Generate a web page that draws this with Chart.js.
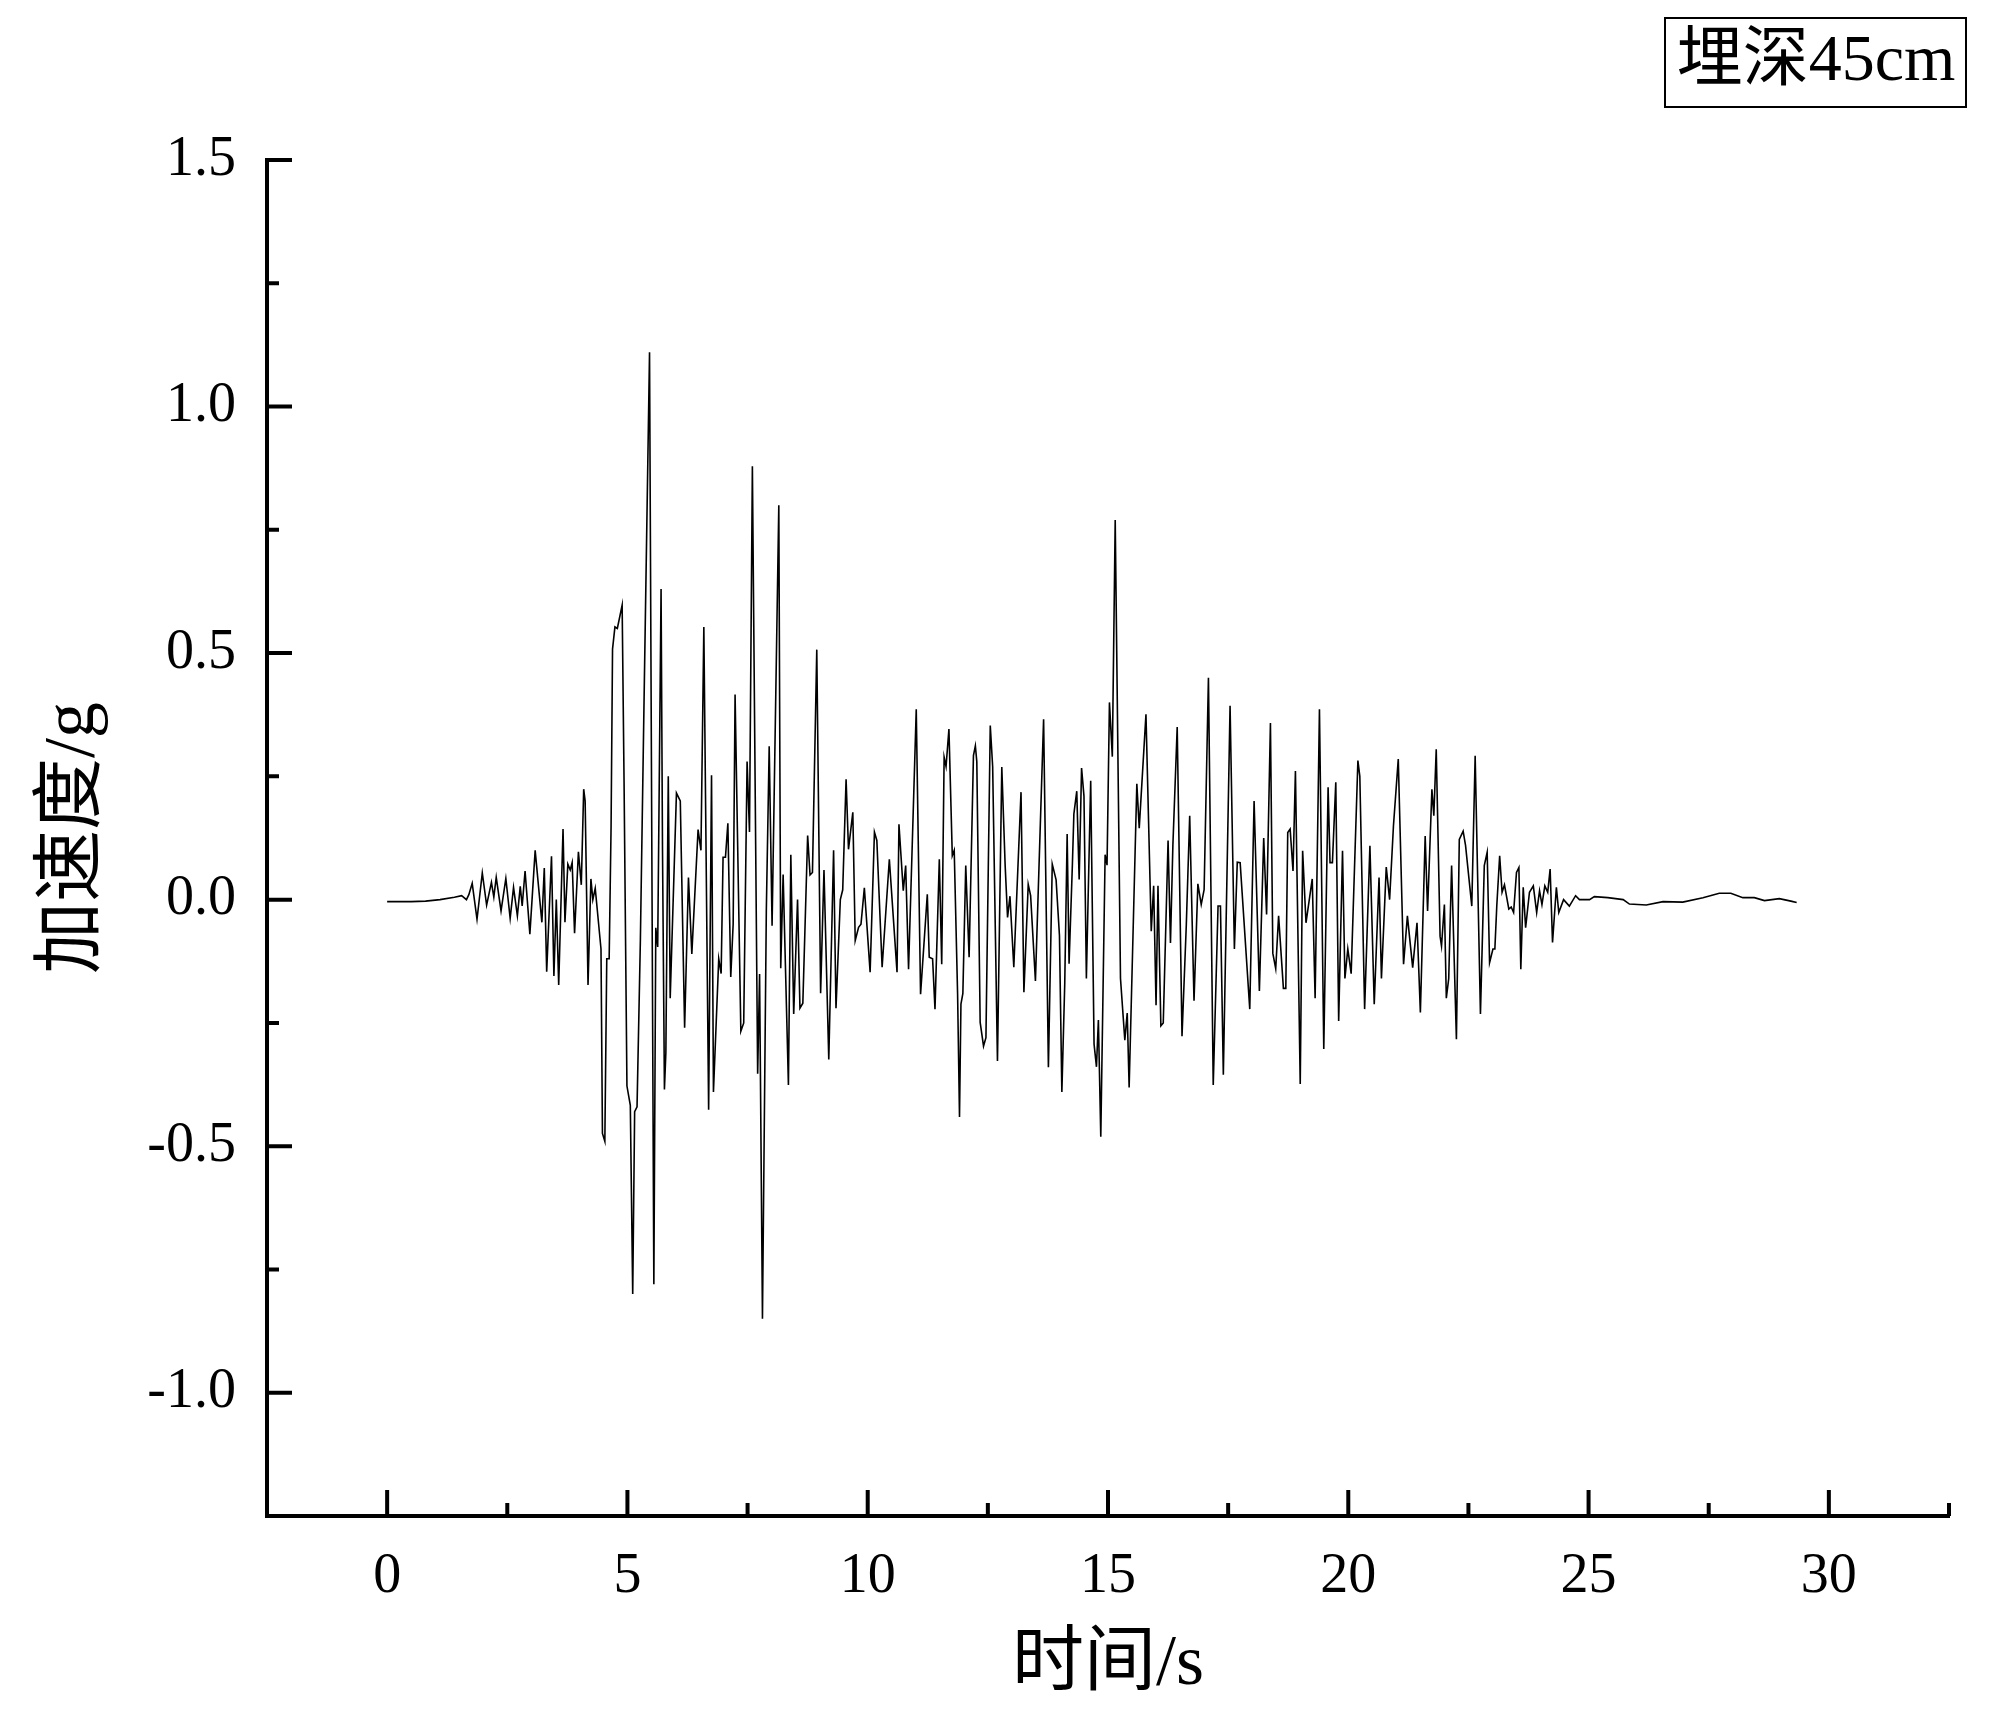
<!DOCTYPE html>
<html>
<head>
<meta charset="utf-8">
<title>埋深45cm</title>
<script src="https://cdn.jsdelivr.net/npm/chart.js@4.4.1/dist/chart.umd.min.js"></script>
<style>
    html, body { margin: 0; padding: 0; background: #ffffff; }
    #chartBox { width: 2000px; height: 1719px; }
</style>
</head>
<body>
<div id="chartBox"><canvas id="mainGraph" width="2000" height="1719"></canvas></div>
<script>
const timeS = [
    0, 0.5, 0.8, 1.1, 1.4, 1.55, 1.65, 1.7,
    1.77, 1.87, 1.98, 2.07, 2.17, 2.22, 2.27, 2.37, 2.47, 2.56, 2.63, 2.71,
    2.77, 2.81, 2.87, 2.97, 3.08, 3.22, 3.27, 3.32, 3.42, 3.47, 3.52, 3.57,
    3.66, 3.70, 3.76, 3.81, 3.85, 3.90, 3.98, 4.04, 4.09, 4.12, 4.18, 4.24,
    4.28, 4.33, 4.45, 4.48, 4.53, 4.57, 4.62, 4.66, 4.69, 4.74, 4.79, 4.89,
    4.93, 4.99, 5.06, 5.11, 5.15, 5.20, 5.27, 5.34, 5.46, 5.55, 5.59, 5.63,
    5.70, 5.73, 5.77, 5.80, 5.85, 5.89, 6.02, 6.10, 6.19, 6.27, 6.34, 6.47,
    6.53, 6.59, 6.69, 6.75, 6.79, 6.90, 6.95, 6.99, 7.04, 7.09, 7.15, 7.20,
    7.24, 7.36, 7.42, 7.49, 7.54, 7.60, 7.71, 7.75, 7.81, 7.89, 7.95, 8.01,
    8.15, 8.19, 8.24, 8.35, 8.40, 8.46, 8.54, 8.59, 8.65, 8.75, 8.80, 8.85,
    8.94, 9.02, 9.09, 9.19, 9.29, 9.34, 9.43, 9.48, 9.55, 9.60, 9.69, 9.74,
    9.81, 9.86, 9.93, 10.05, 10.14, 10.19, 10.30, 10.45, 10.61, 10.65, 10.74, 10.79,
    10.85, 11.01, 11.10, 11.24, 11.28, 11.35, 11.40, 11.49, 11.54, 11.59, 11.63, 11.69,
    11.76, 11.80, 11.87, 11.91, 11.94, 11.98, 12.04, 12.11, 12.20, 12.24, 12.27, 12.34,
    12.41, 12.46, 12.55, 12.60, 12.70, 12.79, 12.86, 12.91, 12.96, 13.04, 13.19, 13.25,
    13.34, 13.39, 13.49, 13.66, 13.76, 13.84, 13.92, 13.99, 14.04, 14.10, 14.15, 14.19,
    14.26, 14.29, 14.35, 14.40, 14.45, 14.50, 14.55, 14.64, 14.71, 14.76, 14.80, 14.85,
    14.94, 14.98, 15.03, 15.09, 15.15, 15.26, 15.35, 15.40, 15.44, 15.60, 15.65, 15.79,
    15.90, 15.95, 16.00, 16.04, 16.10, 16.15, 16.25, 16.30, 16.35, 16.44, 16.54, 16.63,
    16.70, 16.79, 16.87, 16.94, 17.00, 17.09, 17.19, 17.29, 17.34, 17.40, 17.54, 17.63,
    17.69, 17.75, 17.95, 18.04, 18.15, 18.24, 18.30, 18.38, 18.43, 18.49, 18.55, 18.65,
    18.70, 18.74, 18.79, 18.85, 18.90, 19.00, 19.05, 19.12, 19.25, 19.31, 19.40, 19.49,
    19.58, 19.62, 19.67, 19.74, 19.80, 19.88, 19.93, 19.99, 20.06, 20.20, 20.24, 20.34,
    20.45, 20.54, 20.64, 20.69, 20.79, 20.86, 20.94, 21.04, 21.15, 21.23, 21.34, 21.43,
    21.50, 21.60, 21.65, 21.74, 21.78, 21.83, 21.91, 21.94, 22.00, 22.04, 22.09, 22.15,
    22.25, 22.31, 22.39, 22.44, 22.57, 22.64, 22.75, 22.83, 22.89, 22.94, 23.01, 23.05,
    23.09, 23.15, 23.20, 23.25, 23.34, 23.39, 23.44, 23.50, 23.55, 23.59, 23.64, 23.69,
    23.77, 23.85, 23.92, 23.98, 24.03, 24.09, 24.15, 24.20, 24.25, 24.33, 24.38, 24.48,
    24.60, 24.73, 24.81, 25.02, 25.12, 25.40, 25.72, 25.85, 26.20, 26.55, 26.96, 27.38,
    27.72, 27.96, 28.21, 28.45, 28.66, 28.97, 29.21, 29.33
];
const accelG = [
    -0.004, -0.004, -0.003, 0.0, 0.005, 0.008, 0.0, 0.01,
    0.033, -0.04, 0.054, -0.011, 0.035, 0.005, 0.045, -0.023, 0.043, -0.038, 0.025, -0.033,
    0.027, -0.013, 0.058, -0.07, 0.10, -0.046, 0.064, -0.146, 0.088, -0.155, 0.0, -0.173,
    0.143, -0.046, 0.072, 0.06, 0.075, -0.068, 0.097, 0.03, 0.224, 0.20, -0.173, 0.042,
    0.0, 0.023, -0.10, -0.474, -0.49, -0.12, -0.12, 0.15, 0.508, 0.553, 0.55, 0.597,
    0.238, -0.378, -0.417, -0.80, -0.43, -0.42, -0.08, 0.366, 1.11, -0.78, -0.057, -0.096,
    0.63, 0.10, -0.385, -0.31, 0.25, -0.20, 0.216, 0.20, -0.26, 0.045, -0.11, 0.142,
    0.10, 0.553, -0.426, 0.252, -0.39, -0.12, -0.15, 0.086, 0.086, 0.155, -0.157, -0.05,
    0.416, -0.267, -0.25, 0.28, 0.137, 0.879, -0.353, -0.151, -0.85, -0.024, 0.311, -0.053,
    0.80, -0.139, 0.051, -0.376, 0.091, -0.232, 0.0, -0.22, -0.21, 0.13, 0.05, 0.055,
    0.507, -0.19, 0.06, -0.324, 0.10, -0.22, 0.0, 0.02, 0.244, 0.102, 0.177, -0.083,
    -0.056, -0.05, 0.024, -0.147, 0.137, 0.12, -0.137, 0.082, -0.147, 0.153, 0.018, 0.069,
    -0.141, 0.386, -0.192, 0.011, -0.117, -0.12, -0.222, 0.082, -0.131, 0.289, 0.27, 0.346,
    0.089, 0.10, -0.19, -0.441, -0.212, -0.19, 0.069, -0.117, 0.292, 0.312, 0.28, -0.249,
    -0.297, -0.28, 0.353, 0.27, -0.327, 0.269, 0.069, -0.036, 0.007, -0.137, 0.218, -0.188,
    0.031, 0.008, -0.165, 0.366, -0.34, 0.072, 0.04, -0.073, -0.39, -0.17, 0.133, -0.13,
    0.074, 0.174, 0.22, 0.041, 0.267, 0.21, -0.16, 0.241, -0.293, -0.339, -0.244, -0.481,
    0.091, 0.07, 0.40, 0.29, 0.77, -0.16, -0.285, -0.23, -0.381, 0.235, 0.145, 0.376,
    -0.064, 0.028, -0.214, 0.028, -0.256, -0.25, 0.12, -0.088, 0.11, 0.35, -0.277, -0.05,
    0.17, -0.205, 0.032, -0.01, 0.02, 0.45, -0.376, -0.013, -0.013, -0.355, 0.393, -0.10,
    0.076, 0.075, -0.222, 0.20, -0.185, 0.125, -0.03, 0.358, -0.109, -0.14, -0.033, -0.18,
    -0.18, 0.136, 0.143, 0.058, 0.261, -0.374, 0.099, -0.047, 0.042, -0.20, 0.386, -0.303,
    0.228, 0.075, 0.075, 0.238, -0.246, 0.099, -0.16, -0.10, -0.15, 0.282, 0.25, -0.222,
    0.109, -0.212, 0.045, -0.16, 0.066, 0.0, 0.15, 0.285, -0.131, -0.033, -0.138, -0.047,
    -0.229, 0.129, -0.023, 0.224, 0.17, 0.305, -0.074, -0.094, -0.01, -0.20, -0.16, 0.069,
    -0.283, 0.122, 0.139, 0.11, -0.013, 0.292, -0.232, 0.069, 0.096, -0.128, -0.10, -0.10,
    -0.013, 0.089, 0.015, 0.03, -0.019, -0.015, -0.026, 0.055, 0.065, -0.141, 0.025, -0.057,
    0.015, 0.028, -0.026, 0.018, -0.01, 0.028, 0.015, 0.062, -0.087, 0.025, -0.026, 0.0,
    -0.013, 0.008, 0.0, 0.0, 0.006, 0.004, 0.0, -0.009, -0.011, -0.004, -0.005, 0.004,
    0.013, 0.013, 0.004, 0.004, -0.002, 0.002, -0.003, -0.006
];

// axis ticks
const xMajorTicks = [0, 5, 10, 15, 20, 25, 30];
const xMinorTicks = [2.5, 7.5, 12.5, 17.5, 22.5, 27.5, 32.5];
const yMajorTicks = [-1.0, -0.5, 0.0, 0.5, 1.0, 1.5];
const yMinorTicks = [-0.75, -0.25, 0.25, 0.75, 1.25];

const depthText = '埋深45cm';
const xTitle = '时间/s';
const yTitle = '加速度/g';

document.addEventListener('DOMContentLoaded', () => {
    const fontFamily = '"Liberation Serif", "Noto Sans CJK SC", serif';

    // tick marks point into the plot, like the Origin export
    const innerTicks = {
        id: 'innerTicks',
        afterDraw(chart) {
            const ctx = chart.ctx;
            const xs = chart.scales.x;
            const ys = chart.scales.y;
            const left = chart.chartArea.left;
            const bottom = chart.chartArea.bottom;
            ctx.save();
            ctx.strokeStyle = '#000';
            ctx.lineWidth = 4;
            ctx.beginPath();
            xMajorTicks.forEach(v => {
                const px = xs.getPixelForValue(v);
                ctx.moveTo(px, bottom); ctx.lineTo(px, bottom - 26);
            });
            xMinorTicks.forEach(v => {
                const px = xs.getPixelForValue(v);
                ctx.moveTo(px, bottom); ctx.lineTo(px, bottom - 13);
            });
            yMajorTicks.forEach(v => {
                const py = ys.getPixelForValue(v);
                ctx.moveTo(left, py); ctx.lineTo(left + 25, py);
            });
            yMinorTicks.forEach(v => {
                const py = ys.getPixelForValue(v);
                ctx.moveTo(left, py); ctx.lineTo(left + 12, py);
            });
            ctx.stroke();
            ctx.restore();
        }
    };

    const depthLabel = {
        id: 'depthLabel',
        afterDraw(chart) {
            const ctx = chart.ctx;
            ctx.save();
            ctx.strokeStyle = '#000';
            ctx.lineWidth = 2;
            ctx.strokeRect(1665, 18, 301, 89);
            ctx.fillStyle = '#000';
            ctx.font = '66px ' + fontFamily;
            ctx.textAlign = 'center';
            ctx.textBaseline = 'middle';
            ctx.fillText(depthText, 1816, 63);
            ctx.restore();
        }
    };

    const points = timeS.map((t, i) => ({ x: t, y: accelG[i] }));

    new Chart(document.getElementById('mainGraph').getContext('2d'), {
        type: 'line',
        data: {
            datasets: [{
                label: yTitle,
                data: points,
                borderColor: '#000',
                borderWidth: 1.6,
                pointRadius: 0,
                tension: 0,
                fill: false
            }]
        },
        options: {
            responsive: false,
            animation: false,
            layout: { padding: { top: 160, right: 51, left: 0, bottom: 0 } },
            plugins: {
                legend: { display: false },
                tooltip: { enabled: false }
            },
            scales: {
                x: {
                    type: 'linear',
                    min: -2.5,
                    max: 32.5,
                    afterFit: scale => { scale.height = 203; },
                    afterBuildTicks: scale => { scale.ticks = xMajorTicks.map(v => ({ value: v })); },
                    grid: { drawOnChartArea: false, drawTicks: false },
                    border: { display: true, width: 4, color: '#000' },
                    ticks: {
                        color: '#000',
                        padding: 28,
                        maxRotation: 0,
                        font: { family: fontFamily, size: 56 }
                    },
                    title: {
                        display: true,
                        text: xTitle,
                        color: '#000',
                        padding: { top: 0, bottom: 11 },
                        font: { family: fontFamily, size: 72 }
                    }
                },
                y: {
                    min: -1.25,
                    max: 1.5,
                    afterFit: scale => { scale.width = 267; },
                    afterBuildTicks: scale => { scale.ticks = yMajorTicks.map(v => ({ value: v })); },
                    grid: { drawOnChartArea: false, drawTicks: false },
                    border: { display: true, width: 4, color: '#000' },
                    ticks: {
                        color: '#000',
                        padding: 31,
                        font: { family: fontFamily, size: 56 },
                        callback: v => v.toFixed(1)
                    },
                    title: {
                        display: true,
                        text: yTitle,
                        color: '#000',
                        padding: { top: 31, bottom: 0 },
                        font: { family: fontFamily, size: 72 }
                    }
                }
            }
        },
        plugins: [innerTicks, depthLabel]
    });
});
</script>
</body>
</html>
